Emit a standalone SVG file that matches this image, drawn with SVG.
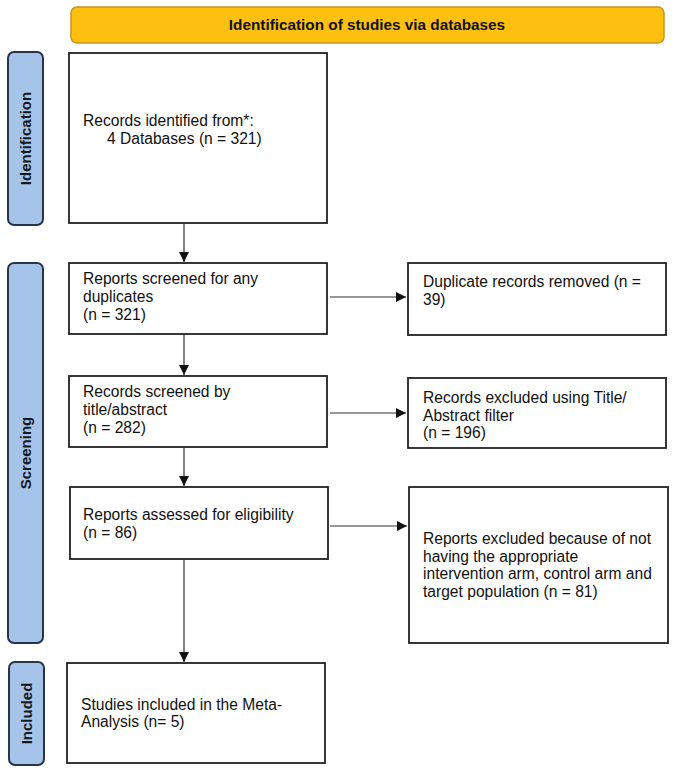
<svg xmlns="http://www.w3.org/2000/svg" width="675" height="774" viewBox="0 0 675 774">
<defs>
<style>
.box{fill:#fff;stroke:#222;stroke-width:1.8}
.side{fill:#a6c4ea;stroke:#27354a;stroke-width:2}
.banner{fill:#fdc010;stroke:#c8951a;stroke-width:1.5}
.t{font-family:"Liberation Sans",Arial,sans-serif;font-size:15.6px;fill:#111}
.sl{font-family:"Liberation Sans",Arial,sans-serif;font-size:15px;font-weight:bold;fill:#141820}
.bt{font-family:"Liberation Sans",Arial,sans-serif;font-size:15.3px;font-weight:bold;fill:#111}
.c{stroke:#333;stroke-width:1.2;fill:none;marker-end:url(#ah)}
</style>
<marker id="ah" viewBox="0 0 10 10" refX="10" refY="5" markerWidth="10" markerHeight="10" markerUnits="userSpaceOnUse" orient="auto">
<path d="M0,0 L10,5 L0,10 z" fill="#111"/>
</marker>
</defs>
<rect width="675" height="774" fill="#fff"/>
<g id="banner">
<rect class="banner" x="71" y="7" width="593" height="36" rx="6"/>
<text class="bt" x="367" y="30" text-anchor="middle">Identification of studies via databases</text>
</g>
<g id="side-identification">
<rect class="side" x="8" y="52" width="35" height="173" rx="6"/>
<text class="sl" transform="translate(31,138.5) rotate(-90)" text-anchor="middle">Identification</text>
</g>
<g id="side-screening">
<rect class="side" x="8" y="263" width="35" height="380" rx="6"/>
<text class="sl" transform="translate(31,453) rotate(-90)" text-anchor="middle">Screening</text>
</g>
<g id="side-included">
<rect class="side" x="9" y="662" width="35" height="103" rx="6"/>
<text class="sl" transform="translate(32,713.5) rotate(-90)" text-anchor="middle">Included</text>
</g>
<g id="records-identified">
<rect class="box" x="69" y="53" width="258" height="170"/>
<text class="t" x="83" y="126">Records identified from*:</text>
<text class="t" x="107" y="143.5">4 Databases (n = 321)</text>
</g>
<g id="reports-screened">
<rect class="box" x="69" y="263" width="258" height="71"/>
<text class="t" x="83" y="284">Reports screened for any</text>
<text class="t" x="83" y="302">duplicates</text>
<text class="t" x="83" y="320">(n = 321)</text>
</g>
<g id="records-screened">
<rect class="box" x="69" y="376" width="258" height="71"/>
<text class="t" x="83" y="397">Records screened by</text>
<text class="t" x="83" y="415">title/abstract</text>
<text class="t" x="83" y="433">(n = 282)</text>
</g>
<g id="reports-assessed">
<rect class="box" x="70" y="487" width="258" height="72"/>
<text class="t" x="83" y="520">Reports assessed for eligibility</text>
<text class="t" x="83" y="538">(n = 86)</text>
</g>
<g id="studies-included">
<rect class="box" x="67" y="663" width="258" height="100"/>
<text class="t" x="81" y="710">Studies included in the Meta-</text>
<text class="t" x="81" y="727">Analysis (n= 5)</text>
</g>
<g id="duplicates-removed">
<rect class="box" x="408" y="263" width="258" height="72"/>
<text class="t" x="423" y="287">Duplicate records removed (n =</text>
<text class="t" x="423" y="305">39)</text>
</g>
<g id="records-excluded">
<rect class="box" x="408" y="378" width="258" height="70"/>
<text class="t" x="423" y="403">Records excluded using Title/</text>
<text class="t" x="423" y="421">Abstract filter</text>
<text class="t" x="423" y="438">(n = 196)</text>
</g>
<g id="reports-excluded">
<rect class="box" x="409" y="487" width="259" height="156"/>
<text class="t" x="423" y="544">Reports excluded because of not</text>
<text class="t" x="423" y="561.5">having the appropriate</text>
<text class="t" x="423" y="579">intervention arm, control arm and</text>
<text class="t" x="423" y="596.5">target population (n = 81)</text>
</g>
<g id="connectors">
<line class="c" x1="184" y1="223" x2="184" y2="262"/>
<line class="c" x1="184" y1="334" x2="184" y2="375"/>
<line class="c" x1="184" y1="447" x2="184" y2="486"/>
<line class="c" x1="184" y1="559" x2="184" y2="662"/>
<line class="c" x1="330" y1="297" x2="406" y2="297"/>
<line class="c" x1="330" y1="413" x2="406" y2="413"/>
<line class="c" x1="330" y1="526" x2="407" y2="526"/>
</g>
</svg>
